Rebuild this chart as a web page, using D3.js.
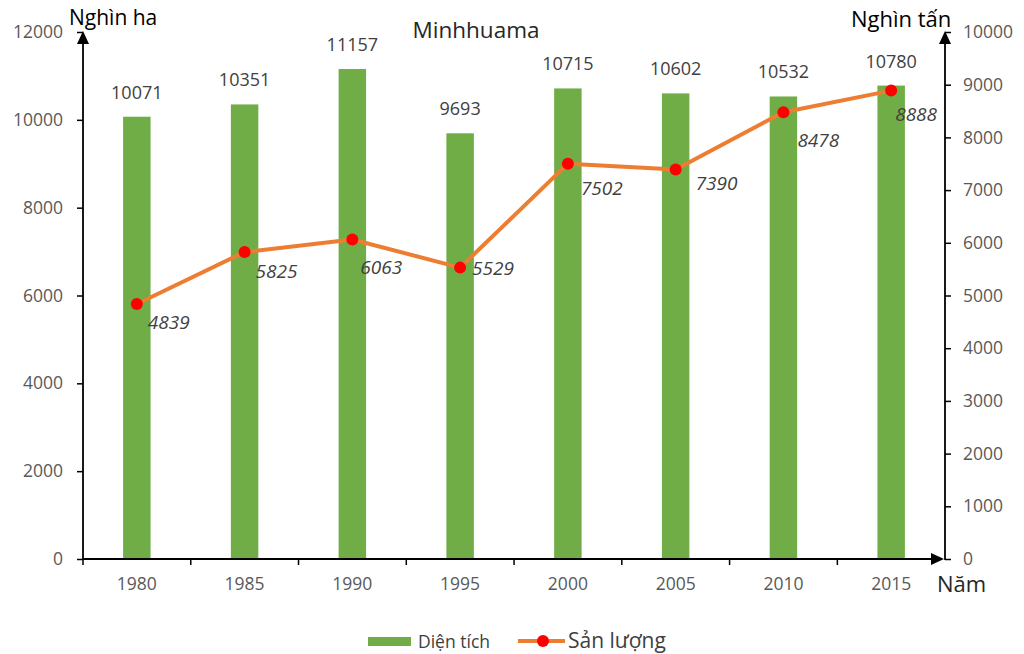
<!DOCTYPE html>
<html><head><meta charset="utf-8">
<script src="https://cdn.jsdelivr.net/npm/d3@7"></script>
<style>body{margin:0;background:#fff}svg{display:block}text{font-family:"Open Sans",sans-serif}</style>
</head><body><svg id="c" width="1024" height="654"></svg>
<script>
const years = ["1980","1985","1990","1995","2000","2005","2010","2015"];
const dienTich = [10071,10351,11157,9693,10715,10602,10532,10780];
const sanLuong = [4839,5825,6063,5529,7502,7390,8478,8888];
const leftTicks = [0,2000,4000,6000,8000,10000,12000];
const rightTicks = [0,1000,2000,3000,4000,5000,6000,7000,8000,9000,10000];
const title = "Minhhuama";
const leftTitle = "Nghìn ha", rightTitle = "Nghìn tấn", xTitle = "Năm";
const legendNames = ["Diện tích","Sản lượng"];
// label layout offsets (dx, dy) for line labels
const labelOffsets = [[11,25],[11,26],[8,35],[12,7],[13,31],[20,20],[14,35],[4,30]];

const svg = d3.select("#c");
const L = 83, R = 945, T = 32, B = 559;
const x = d3.scaleBand().domain(years).range([L,R]).paddingInner(0.745).paddingOuter(0.372);
const yL = d3.scaleLinear().domain([0,12000]).range([B,T]);
const yR = d3.scaleLinear().domain([0,10000]).range([B,T]);
const cx = d => x(d) + x.bandwidth()/2;

// bars
svg.selectAll("rect.bar").data(years).enter().append("rect")
  .attr("x", d=>x(d)).attr("width", x.bandwidth())
  .attr("y", (d,i)=>yL(dienTich[i])).attr("height",(d,i)=>B-yL(dienTich[i]))
  .attr("fill","#70AD47");
svg.selectAll("text.bl").data(years).enter().append("text")
  .attr("x", d=>cx(d)).attr("y",(d,i)=>yL(dienTich[i])-18)
  .attr("text-anchor","middle").attr("font-size",18).attr("fill","#404040")
  .text((d,i)=>dienTich[i]);

// axes
const axL = d3.axisLeft(yL).tickValues(leftTicks).tickSize(6).tickPadding(14).tickFormat(d3.format("d"));
const gL = svg.append("g").attr("transform",`translate(${L},0)`).call(axL);
const axR = d3.axisRight(yR).tickValues(rightTicks).tickSize(6).tickPadding(12).tickFormat(d3.format("d"));
const gR = svg.append("g").attr("transform",`translate(${R},0)`).call(axR);
const axX = d3.axisBottom(x).tickSize(0).tickPadding(19);
const gX = svg.append("g").attr("transform",`translate(0,${B})`).call(axX);
[gL,gR,gX].forEach(g=>{
  g.select(".domain").remove();
  g.selectAll("line").attr("stroke","#000").attr("stroke-width",1.5);
  g.selectAll("text").attr("font-size",17.5).attr("fill","#595959").attr("font-family","Open Sans");
});
// x ticks at band boundaries
svg.selectAll("line.xt").data(years).enter().append("line")
  .attr("x1",(d,i)=>L+i*x.step()).attr("x2",(d,i)=>L+i*x.step())
  .attr("y1",B).attr("y2",B+6).attr("stroke","#000").attr("stroke-width",1.5);
// axis lines with arrows
svg.append("line").attr("x1",L).attr("x2",L).attr("y1",B+1).attr("y2",T+10).attr("stroke","#000").attr("stroke-width",1.8);
svg.append("line").attr("x1",R).attr("x2",R).attr("y1",B+1).attr("y2",T+10).attr("stroke","#000").attr("stroke-width",1.8);
svg.append("line").attr("x1",L).attr("x2",R-8).attr("y1",B).attr("y2",B).attr("stroke","#000").attr("stroke-width",1.8);
const tri = (px,py,dir)=>{
  if(dir==="up") return `M${px},${py} L${px-6},${py+13} L${px+6},${py+13}Z`;
  return `M${px},${py} L${px-13},${py-6} L${px-13},${py+6}Z`;
};
svg.append("path").attr("d",tri(L,T-1,"up")).attr("fill","#000");
svg.append("path").attr("d",tri(R,T-1,"up")).attr("fill","#000");
svg.append("path").attr("d",tri(R-1,B,"right")).attr("fill","#000");

// line
const line = d3.line().x((d,i)=>cx(years[i])).y(d=>yR(d));
svg.append("path").datum(sanLuong).attr("d",line).attr("fill","none")
  .attr("stroke","#ED7D31").attr("stroke-width",4).attr("stroke-linejoin","round");
svg.selectAll("circle.pt").data(sanLuong).enter().append("circle")
  .attr("cx",(d,i)=>cx(years[i])).attr("cy",d=>yR(d)).attr("r",6).attr("fill","#FF0000");
svg.selectAll("text.ll").data(sanLuong).enter().append("text")
  .attr("x",(d,i)=>cx(years[i])+labelOffsets[i][0]).attr("y",(d,i)=>yR(d)+labelOffsets[i][1])
  .attr("font-size",19).attr("font-style","italic").attr("fill","#404040").text(d=>d);

// titles
svg.append("text").attr("x",476).attr("y",38).attr("text-anchor","middle").attr("font-size",22.5).attr("fill","#262626").text(title);
svg.append("text").attr("x",69).attr("y",25).attr("font-size",21).attr("fill","#000").text(leftTitle);
svg.append("text").attr("x",851).attr("y",27).attr("font-size",22).attr("fill","#000").text(rightTitle);
svg.append("text").attr("x",937).attr("y",592).attr("font-size",22).attr("fill","#262626").text(xTitle);

// legend
svg.append("rect").attr("x",368).attr("y",637).attr("width",43).attr("height",9).attr("fill","#70AD47");
svg.append("text").attr("x",418).attr("y",648).attr("font-size",17.5).attr("fill","#404040").text(legendNames[0]);
svg.append("line").attr("x1",518).attr("x2",565).attr("y1",641).attr("y2",641).attr("stroke","#ED7D31").attr("stroke-width",4);
svg.append("circle").attr("cx",543).attr("cy",641).attr("r",6).attr("fill","#FF0000");
svg.append("text").attr("x",568).attr("y",648).attr("font-size",21).attr("fill","#404040").text(legendNames[1]);
</script></body></html>
